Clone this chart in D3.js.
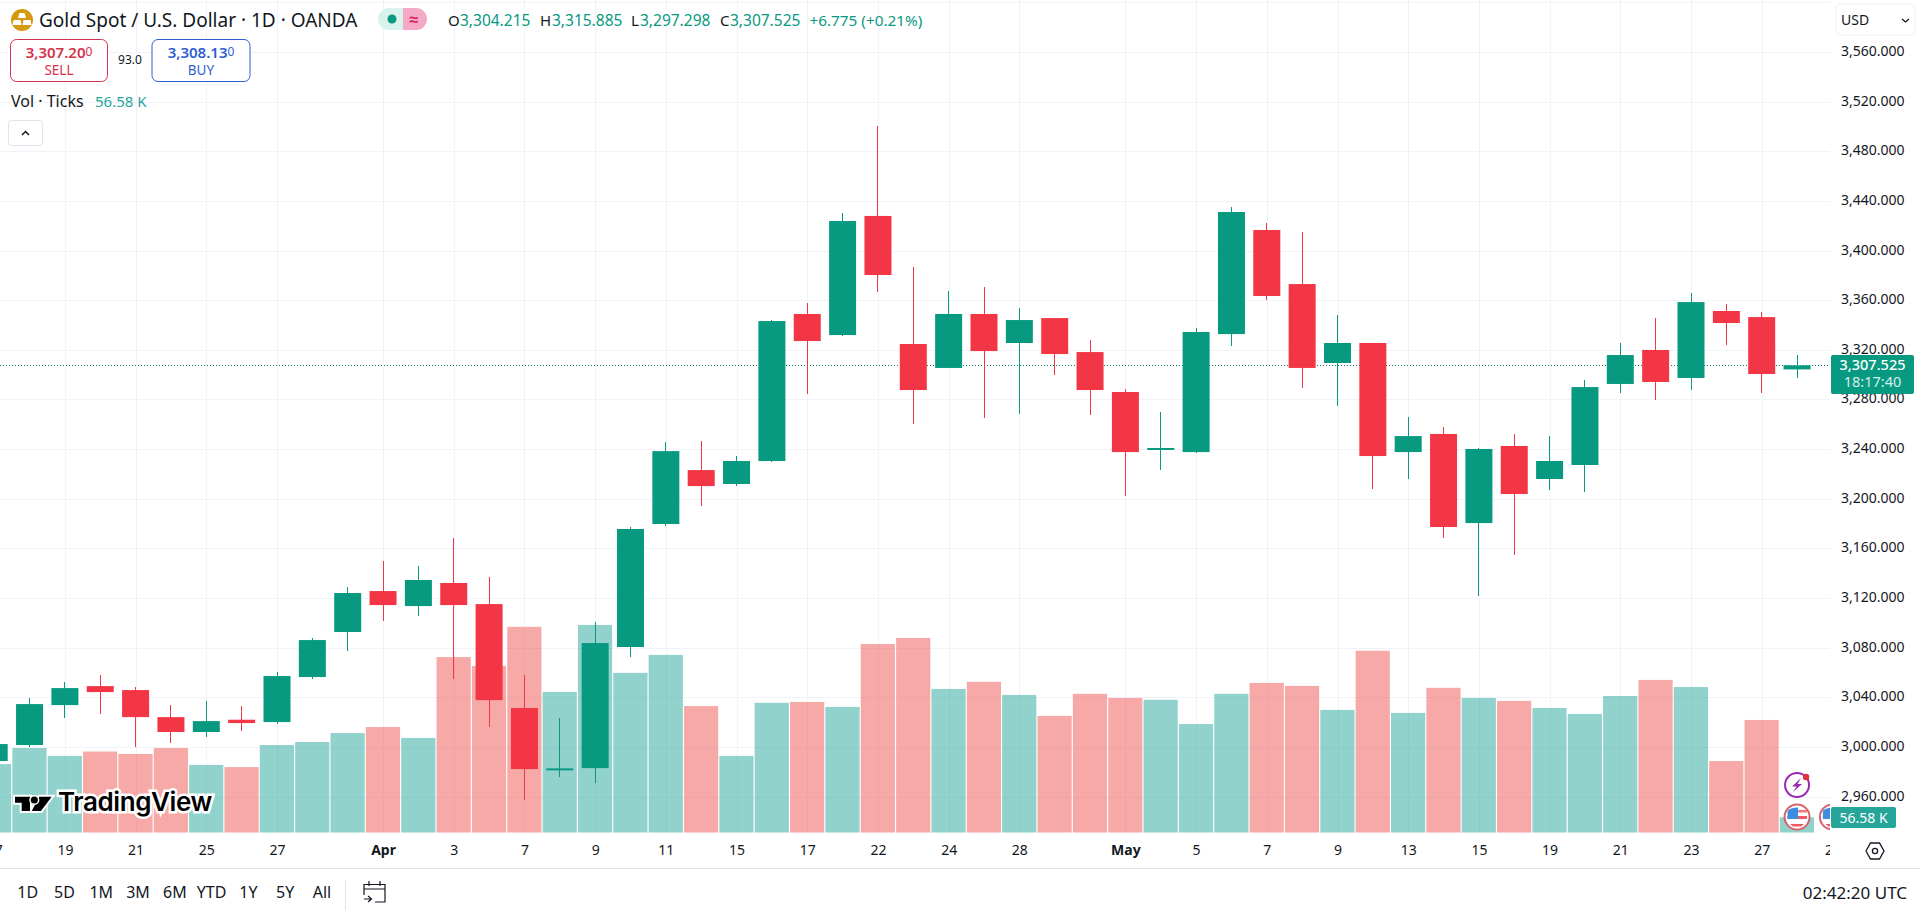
<!DOCTYPE html>
<html>
<head>
<meta charset="utf-8">
<style>
  body { margin: 0; background: #fff; overflow: hidden; }
  text { font-family: "Noto Sans", sans-serif; fill: #131722; }
  .grid line { stroke: #f0f3fa; }
  .grid path, .priceAxis path, .timeAxis path { display: none; }
  .grid text { display: none; }
  .priceAxis text, .timeAxis text { font-family: "Noto Sans", sans-serif; font-size: 14px; fill: #131722; }
  .timeAxis line { display: none; }
</style>
</head>
<body>
<svg id="chart" width="1920" height="910"></svg>
<script src="https://d3js.org/d3.v7.min.js"></script>
<script>
// trading days on screen, first and last are partly cut off
const dates = ["03-17","03-18","03-19","03-20","03-21","03-24","03-25","03-26","03-27","03-28","03-31",
  "04-01","04-02","04-03","04-04","04-07","04-08","04-09","04-10","04-11","04-14","04-15","04-16","04-17",
  "04-21","04-22","04-23","04-24","04-25","04-28","04-29","04-30","05-01","05-02","05-05","05-06","05-07",
  "05-08","05-09","05-12","05-13","05-14","05-15","05-16","05-19","05-20","05-21","05-22","05-23","05-26",
  "05-27","05-28","05-29"]

const opens = [2988.6,3001.5,3033.7,3049.0,3045.8,3024.0,3012.0,3021.9,3020.0,3056.3,3092.6,
  3125.6,3113.5,3132.1,3115.1,3031.3,2982.1,2982.9,3080.5,3179.6,3223.1,3211.9,3230.4,3348.9,
  3331.9,3427.9,3324.7,3305.4,3348.9,3325.5,3345.6,3318.2,3286.0,3239.3,3237.6,3332.7,3416.6,
  3373.0,3309.4,3325.5,3237.6,3252.2,3180.4,3242.5,3215.9,3227.2,3292.5,3319.9,3297.3,3351.3,
  3346.4,3304.215]
const highs = [3006,3039.4,3052.3,3057.9,3048.5,3033.7,3036.9,3033.2,3060.3,3087.7,3129.1,
  3149.8,3145.8,3168.3,3136.9,3057.9,3023.2,3100.6,3176.9,3245.7,3246.5,3234.4,3344.0,3357.7,
  3430.3,3500.4,3387.0,3367.4,3370.6,3353.7,3345.6,3327.9,3288.4,3269.9,3337.3,3434.8,3422.2,
  3415.0,3348.1,3325.5,3265.9,3257.8,3240.6,3252.2,3250.5,3295.7,3325.5,3345.6,3365.8,3357.1,
  3350.5,3315.885]
const lows = [2983,3000.1,3023.2,3026.5,2999.9,3003.1,3007.9,3012.8,3018.4,3054.7,3077.2,
  3101.4,3105.5,3054.7,3015.7,2957.1,2975.9,2970.9,3072.4,3178.0,3194.1,3210.2,3230.0,3284.4,
  3331.5,3366.6,3260.2,3305.0,3265.0,3268.3,3299.7,3267.5,3202.2,3223.1,3237.0,3323.1,3360.1,
  3289.2,3274.7,3207.8,3215.9,3168.3,3121.6,3154.6,3207.0,3205.4,3285.2,3279.6,3287.6,3323.9,
  3285.2,3297.298]
const closes = [3002.3,3034.5,3047.4,3044.2,3024.0,3012.0,3020.8,3019.2,3057.1,3086.1,3124.0,
  3114.3,3134.5,3114.3,3037.7,2982.1,2982.7,3083.7,3175.6,3238.4,3210.2,3230.4,3343.2,3327.1,
  3423.8,3380.3,3287.6,3348.9,3319.0,3344.0,3316.6,3287.6,3237.6,3240.9,3334.4,3431.1,3363.4,
  3305.4,3325.5,3234.4,3250.5,3177.2,3240.1,3203.8,3230.4,3290.0,3315.8,3294.1,3358.5,3341.6,
  3300.5,3307.525]
// ticks volume, thousands
const volumes = [252,311,282,298,289,311,249,241,322,333,366,388,348,645,612,756,517,763,587,653,465,
  282,477,480,462,693,715,528,554,506,429,510,495,488,399,510,550,539,451,668,440,532,495,484,458,436,
  502,561,535,263,414,56.58]

const priceTicks = [3560,3520,3480,3440,3400,3360,3320,3280,3240,3200,3160,3120,3080,3040,3000,2960]
const gridPrices = [3600].concat(priceTicks)
const timeTickDates = ["03-17","03-19","03-21","03-25","03-27","04-01","04-03","04-07","04-09","04-11","04-15","04-17",
  "04-22","04-24","04-28","05-01","05-05","05-07","05-09","05-13","05-15","05-19","05-21","05-23","05-27","05-29"]
const timeTickLabels = ["17","19","21","25","27","Apr","3","7","9","11","15","17",
  "22","24","28","May","5","7","9","13","15","19","21","23","27","29"]
const rangeButtons = ["1D","5D","1M","3M","6M","YTD","1Y","5Y","All"]

const lastPrice = 3307.525
const greenCandle = "#089981", redCandle = "#f23645"
const greenVol = "rgba(38,166,154,0.5)", redVol = "rgba(239,83,80,0.5)"

const paneRight = 1830, paneBottom = 832.7
const svg = d3.select("#chart")

const xScale = d3.scalePoint().domain(dates).range([-5.8, 1832.4])
const yScale = d3.scaleLinear().domain([3480, 3120]).range([151.3, 598])
const volScale = d3.scaleLinear().domain([0, 715]).range([paneBottom, 638])

svg.append("defs").append("clipPath").attr("id", "pane")
  .append("rect").attr("width", paneRight).attr("height", paneBottom)
svg.select("defs").append("clipPath").attr("id", "timeClip")
  .append("rect").attr("y", paneBottom).attr("width", paneRight).attr("height", 36)

const pane = svg.append("g").attr("clip-path", "url(#pane)")

// grid
pane.append("g").attr("class", "grid")
  .call(d3.axisLeft(yScale).tickValues(gridPrices).tickSize(-paneRight))
pane.append("g").attr("class", "grid").attr("transform", "translate(0," + paneBottom + ")")
  .call(d3.axisBottom(xScale).tickValues(timeTickDates).tickSize(-paneBottom))
svg.selectAll(".grid line").attr("shape-rendering", "crispEdges")

// volume
const barIdx = d3.range(closes.length)
const isUp = i => closes[i] >= opens[i]
pane.append("g").selectAll("rect").data(barIdx).enter().append("rect")
  .attr("x", i => xScale(dates[i]) - 17.2)
  .attr("width", 34.2)
  .attr("y", i => volScale(volumes[i]))
  .attr("height", i => paneBottom - volScale(volumes[i]))
  .attr("fill", i => isUp(i) ? greenVol : redVol)

// last price line
pane.append("line")
  .attr("x1", 0).attr("x2", paneRight)
  .attr("y1", yScale(lastPrice)).attr("y2", yScale(lastPrice))
  .attr("stroke", "#087a68").attr("stroke-dasharray", "1 2")
  .attr("shape-rendering", "crispEdges")

// candles
pane.append("g").selectAll("line").data(barIdx).enter().append("line")
  .attr("x1", i => xScale(dates[i])).attr("x2", i => xScale(dates[i]))
  .attr("y1", i => yScale(highs[i])).attr("y2", i => yScale(lows[i]))
  .attr("stroke", i => isUp(i) ? greenCandle : redCandle)
  .attr("shape-rendering", "crispEdges")
pane.append("g").selectAll("rect").data(barIdx).enter().append("rect")
  .attr("x", i => xScale(dates[i]) - 13.5)
  .attr("width", 27)
  .attr("y", i => yScale(Math.max(opens[i], closes[i])))
  .attr("height", i => Math.max(2, Math.abs(yScale(opens[i]) - yScale(closes[i]))))
  .attr("fill", i => isUp(i) ? greenCandle : redCandle)

// event icons on the last bars
function flagIcon(g, cx, cy) {
  const f = g.append("g").attr("transform", "translate(" + cx + "," + cy + ")")
  f.append("circle").attr("r", 12.5).attr("fill", "#fff").attr("stroke", "#d7626b").attr("stroke-width", 2)
  f.append("path").attr("d", "M-9.5 -1H10V2H-9.5Z").attr("fill", "#ef5a60")
  f.append("path").attr("d", "M-7 7H7L4 9.5H-4Z").attr("fill", "#ef5a60")
  f.append("path").attr("d", "M-9 -7H10V-4.5H-9Z").attr("fill", "#ef7a80")
  f.append("path").attr("d", "M-9.5 -2V-6Q-7 -9.5 1 -9.5V2H-9.5Z").attr("fill", "#3d8ee0")
}
const lastX = xScale("05-28")
const bolt = pane.append("g").attr("transform", "translate(" + lastX + ",785)")
bolt.append("circle").attr("r", 12).attr("fill", "#fff").attr("stroke", "#9c27b0").attr("stroke-width", 2)
bolt.append("path").attr("d", "M4 -7L-5 1.5H-0.5L-4 7L5 -1H0.5Z").attr("fill", "#9c27b0")
bolt.append("circle").attr("cx", 9).attr("cy", -8).attr("r", 3.2).attr("fill", "#e0313f")
flagIcon(pane, lastX, 817)
flagIcon(pane, xScale("05-29"), 817)

// watermark
const logo = svg.append("g")
logo.append("path")
  .attr("d", "M15 796.7H30V811H21.7V802.7H15Z M39.3 796.7H51.7L41 811H31.7Z")
  .attr("fill", "#000").attr("stroke", "#fff").attr("stroke-width", 4).attr("paint-order", "stroke")
logo.append("circle").attr("cx", 34.3).attr("cy", 800).attr("r", 3.6)
  .attr("fill", "#000").attr("stroke", "#fff").attr("stroke-width", 3).attr("paint-order", "stroke")
logo.append("text").text("TradingView")
  .attr("x", 58).attr("y", 811)
  .style("font-family", "Inter").style("font-size", "26px").style("font-weight", 600)
  .style("letter-spacing", "-0.4px")
  .attr("stroke", "#fff").attr("stroke-width", 5).attr("paint-order", "stroke")
  .style("fill", "#000")

// price axis
svg.append("g").attr("class", "priceAxis").attr("transform", "translate(1841,-1)")
  .call(d3.axisRight(yScale).tickValues(priceTicks).tickSize(0).tickPadding(0).tickFormat(d3.format(",.3f")))

// time axis
const timeAxisG = svg.append("g").attr("clip-path", "url(#timeClip)")
  .append("g").attr("class", "timeAxis").attr("transform", "translate(0," + paneBottom + ")")
  .call(d3.axisBottom(xScale).tickValues(timeTickDates).tickSize(0).tickPadding(12)
    .tickFormat(d => timeTickLabels[timeTickDates.indexOf(d)]))
timeAxisG.selectAll("text").style("font-weight", d => (d == "04-01" || d == "05-01") ? 700 : 400)

// last price tag
svg.append("rect").attr("x", 1831).attr("y", 355).attr("width", 83).attr("height", 39).attr("rx", 2).attr("fill", greenCandle)
svg.append("text").text(d3.format(",.3f")(lastPrice)).attr("x", 1872.5).attr("y", 370)
  .attr("text-anchor", "middle").style("font-size", "14.5px").style("font-weight", 500).style("fill", "#fff")
svg.append("text").text("18:17:40").attr("x", 1872.5).attr("y", 387)
  .attr("text-anchor", "middle").style("font-size", "14.5px").style("fill", "#d5f0ea")

// volume tag
svg.append("rect").attr("x", 1831).attr("y", 807).attr("width", 65).attr("height", 21).attr("rx", 2).attr("fill", "#26a69a")
svg.append("text").text("56.58 K").attr("x", 1863.5).attr("y", 822.5)
  .attr("text-anchor", "middle").style("font-size", "14px").style("fill", "#fff")

// USD box
svg.append("rect").attr("x", 1836).attr("y", 4).attr("width", 79).attr("height", 31).attr("rx", 5)
  .attr("fill", "#fff").attr("stroke", "#eef0f5")
svg.append("text").text("USD").attr("x", 1841).attr("y", 25).style("font-size", "14px")
svg.append("path").attr("d", "M1902 19l3.5 3 3.5-3").attr("fill", "none").attr("stroke", "#131722").attr("stroke-width", 1.3)

// header
svg.append("circle").attr("cx", 22).attr("cy", 20).attr("r", 11).attr("fill", "#d69a12")
svg.append("path").attr("d", "M19.5 13H24.5L26 18H18Z M13.5 20H20.5L21.5 25H12.5Z M23.5 20H30.5L31.5 25H22.5Z").attr("fill", "#fff")
svg.append("text").text("Gold Spot / U.S. Dollar · 1D · OANDA").attr("x", 39).attr("y", 27)
  .style("font-size", "19px")

svg.append("path").attr("d", "M403 8H389A11 11 0 0 0 389 30H403Z").attr("fill", "#d9f2ee")
svg.append("path").attr("d", "M403 8H416A11 11 0 0 1 416 30H403Z").attr("fill", "#f4a9c4")
svg.append("circle").attr("cx", 392).attr("cy", 19).attr("r", 4.5).attr("fill", greenCandle)
svg.append("text").text("≈").attr("x", 414).attr("y", 25).attr("text-anchor", "middle")
  .style("font-size", "16px").style("font-weight", 700).style("fill", "#d81b60")

// OHLC values, label and value pairs
const ohlcLabels = ["O", "H", "L", "C"]
const ohlcValues = ["3,304.215", "3,315.885", "3,297.298", "3,307.525"]
const ohlcLabelX = [448, 540, 631, 720], ohlcValueX = [460, 552, 640, 730]
ohlcLabels.forEach((l, i) => {
  svg.append("text").text(l).attr("x", ohlcLabelX[i]).attr("y", 25.5).style("font-size", "15px")
  svg.append("text").text(ohlcValues[i]).attr("x", ohlcValueX[i]).attr("y", 25.5)
    .style("font-size", "15.5px").style("fill", greenCandle)
})
svg.append("text").text("+6.775 (+0.21%)").attr("x", 809.5).attr("y", 25.5)
  .style("font-size", "15.3px").style("fill", greenCandle)

// sell / buy buttons
function tradeButton(x, w, col, price, label) {
  svg.append("rect").attr("x", x).attr("y", 39.5).attr("width", w).attr("height", 42).attr("rx", 6)
    .attr("fill", "#fff").attr("stroke", col)
  const t = svg.append("text").attr("x", x + w / 2).attr("y", 58).attr("text-anchor", "middle")
    .style("font-size", "15px").style("font-weight", 600).style("fill", col)
  t.append("tspan").text(price)
  t.append("tspan").text("0").style("font-size", "12px").style("font-weight", 400).attr("dy", -2)
  svg.append("text").text(label).attr("x", x + w / 2).attr("y", 75).attr("text-anchor", "middle")
    .style("font-size", "13.5px").style("fill", col)
}
tradeButton(10.5, 97, "#d5324b", "3,307.20", "SELL")
tradeButton(152, 98, "#2f5fd0", "3,308.13", "BUY")
svg.append("text").text("93.0").attr("x", 130).attr("y", 64).attr("text-anchor", "middle").style("font-size", "12px")

svg.append("text").text("Vol · Ticks").attr("x", 11).attr("y", 107).style("font-size", "16px")
svg.append("text").text("56.58 K").attr("x", 95).attr("y", 107).style("font-size", "15px").style("fill", "#26a69a")

svg.append("rect").attr("x", 8.5).attr("y", 120.5).attr("width", 34).attr("height", 25).attr("rx", 3)
  .attr("fill", "#fff").attr("stroke", "#e0e3eb")
svg.append("path").attr("d", "M22 135l3.5-3.5 3.5 3.5").attr("fill", "none").attr("stroke", "#131722").attr("stroke-width", 1.5)

// bottom toolbar
svg.append("line").attr("x1", 0).attr("x2", 1920).attr("y1", 868.5).attr("y2", 868.5)
  .attr("stroke", "#e0e3eb")
const rangeX = d3.scalePoint().domain(rangeButtons).range([27.7, 322])
svg.append("g").selectAll("text").data(rangeButtons).enter().append("text")
  .text(d => d).attr("x", d => rangeX(d)).attr("y", 898).attr("text-anchor", "middle")
  .style("font-size", "16px")
svg.append("line").attr("x1", 345.5).attr("x2", 345.5).attr("y1", 880).attr("y2", 910).attr("stroke", "#e0e3eb")
svg.append("path").attr("d", "M364 895V884.5H385V902H375 M364 889H385 M369 881V886 M380 881V886 M364 899H371 M368 896l3.5 3-3.5 3")
  .attr("fill", "none").attr("stroke", "#131722").attr("stroke-width", 1.2)
svg.append("text").text("02:42:20 UTC").attr("x", 1907).attr("y", 899).attr("text-anchor", "end").style("font-size", "17px")

// settings hexagon
svg.append("path").attr("d", "M1866 851l4.5-8h9l4.5 8-4.5 8h-9Z").attr("fill", "none").attr("stroke", "#131722").attr("stroke-width", 1.3)
svg.append("circle").attr("cx", 1875).attr("cy", 851).attr("r", 2.6).attr("fill", "none").attr("stroke", "#131722").attr("stroke-width", 1.3)
</script>
</body>
</html>
